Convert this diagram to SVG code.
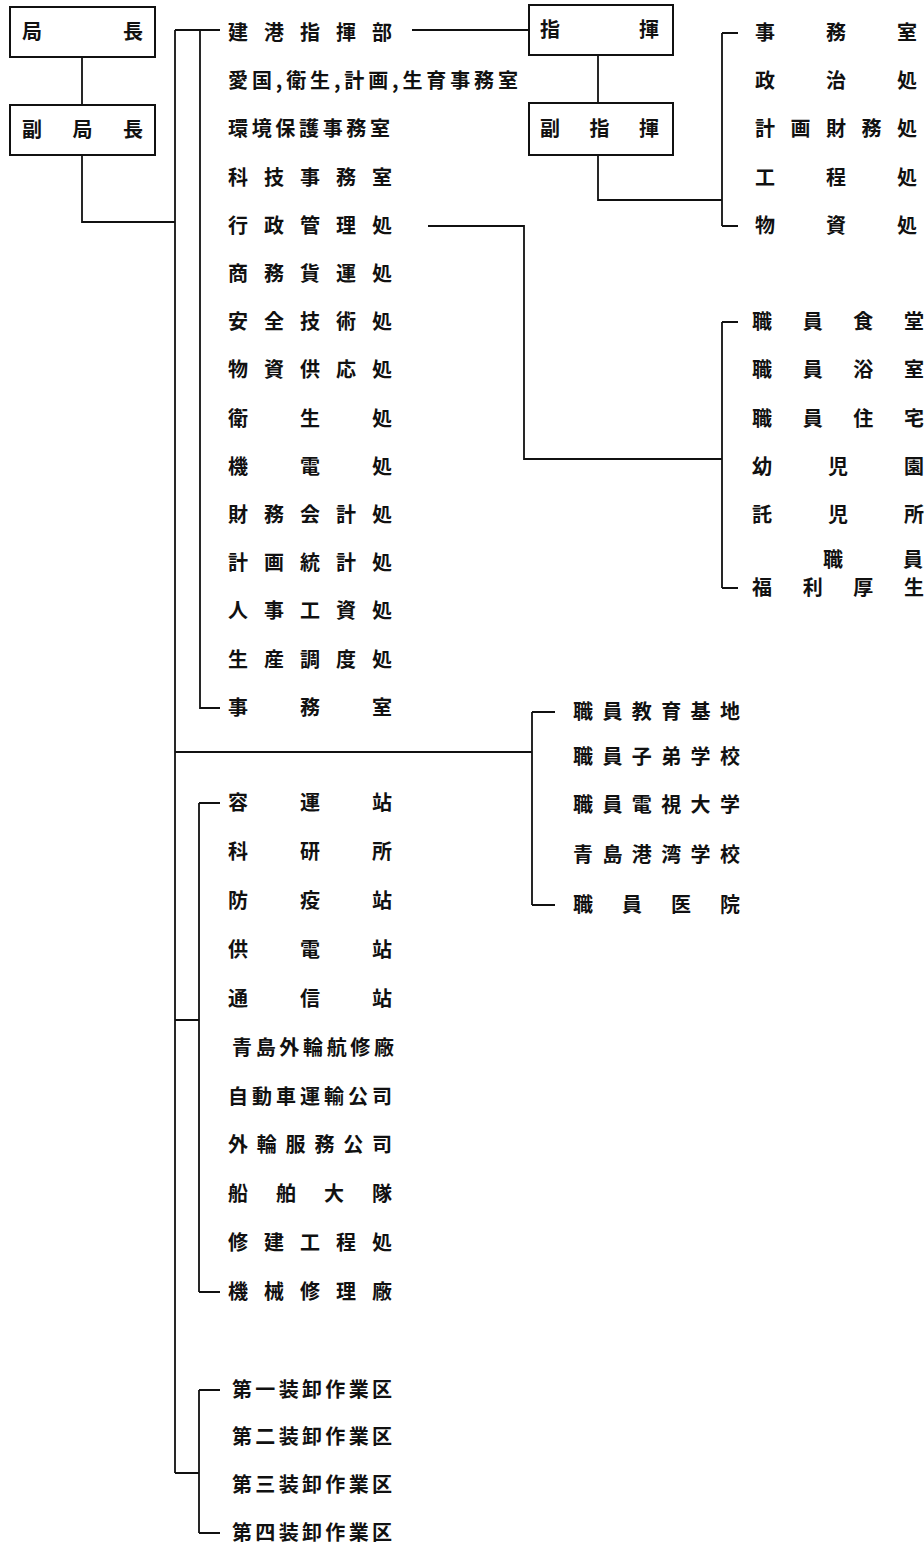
<svg xmlns="http://www.w3.org/2000/svg" width="924" height="1547" viewBox="0 0 924 1547">
<style>
.t{font-family:"Noto Sans CJK JP","Noto Sans CJK TC",sans-serif;font-size:20px;font-weight:bold;fill:#111}
.b{fill:#fff;stroke:#111;stroke-width:2}
.c{fill:none;stroke:#111;stroke-width:1.8}
</style>
<rect width="924" height="1547" fill="#fff"/>
<g id="connectors">
<path class="c" d="M82 57V105M82 155V222H175"/>
<path class="c" d="M175 30V1473M175 30H220M200 30V708H220"/>
<path class="c" d="M175 752H532M532 712V905M532 712H555M532 905H555"/>
<path class="c" d="M175 1020H199M199 803V1292M199 803H220M199 1292H220"/>
<path class="c" d="M175 1473H199M199 1390V1533M199 1390H220M199 1533H220"/>
<path class="c" d="M412 30H529"/>
<path class="c" d="M598 55V103M598 155V200H722M722 33V226M722 33H738M722 226H738"/>
<path class="c" d="M428 226H524V459H722M722 322V588M722 322H738M722 588H738"/>
</g>
<g id="n-juzhang"><rect class="b" x="10" y="7" width="145" height="50"/><text class="t" x="22" y="39" textLength="121" lengthAdjust="spacing">局長</text></g>
<g id="n-fujuzhang"><rect class="b" x="10" y="105" width="145" height="50"/><text class="t" x="22" y="137" textLength="121" lengthAdjust="spacing">副局長</text></g>
<g id="n-zhihui"><rect class="b" x="529" y="5" width="144" height="50"/><text class="t" x="540" y="37" textLength="119" lengthAdjust="spacing">指揮</text></g>
<g id="n-fuzhihui"><rect class="b" x="529" y="103" width="144" height="52"/><text class="t" x="540" y="136" textLength="119" lengthAdjust="spacing">副指揮</text></g>
<g id="n-group1">
<text class="t" x="228" y="40" textLength="164" lengthAdjust="spacing">建港指揮部</text>
<text class="t" x="228" y="88" textLength="290" lengthAdjust="spacing">愛国,衛生,計画,生育事務室</text>
<text class="t" x="228" y="136" textLength="162" lengthAdjust="spacing">環境保護事務室</text>
<text class="t" x="228" y="185" textLength="164" lengthAdjust="spacing">科技事務室</text>
<text class="t" x="228" y="233" textLength="164" lengthAdjust="spacing">行政管理処</text>
<text class="t" x="228" y="281" textLength="164" lengthAdjust="spacing">商務貨運処</text>
<text class="t" x="228" y="329" textLength="164" lengthAdjust="spacing">安全技術処</text>
<text class="t" x="228" y="377" textLength="164" lengthAdjust="spacing">物資供応処</text>
<text class="t" x="228" y="426" textLength="164" lengthAdjust="spacing">衛生処</text>
<text class="t" x="228" y="474" textLength="164" lengthAdjust="spacing">機電処</text>
<text class="t" x="228" y="522" textLength="164" lengthAdjust="spacing">財務会計処</text>
<text class="t" x="228" y="570" textLength="164" lengthAdjust="spacing">計画統計処</text>
<text class="t" x="228" y="618" textLength="164" lengthAdjust="spacing">人事工資処</text>
<text class="t" x="228" y="667" textLength="164" lengthAdjust="spacing">生産調度処</text>
<text class="t" x="228" y="715" textLength="164" lengthAdjust="spacing">事務室</text>
</g>
<g id="n-right1">
<text class="t" x="755" y="40" textLength="162" lengthAdjust="spacing">事務室</text>
<text class="t" x="755" y="88" textLength="162" lengthAdjust="spacing">政治処</text>
<text class="t" x="755" y="136" textLength="162" lengthAdjust="spacing">計画財務処</text>
<text class="t" x="755" y="185" textLength="162" lengthAdjust="spacing">工程処</text>
<text class="t" x="755" y="233" textLength="162" lengthAdjust="spacing">物資処</text>
</g>
<g id="n-right2">
<text class="t" x="752" y="329" textLength="172" lengthAdjust="spacing">職員食堂</text>
<text class="t" x="752" y="377" textLength="172" lengthAdjust="spacing">職員浴室</text>
<text class="t" x="752" y="426" textLength="172" lengthAdjust="spacing">職員住宅</text>
<text class="t" x="752" y="474" textLength="172" lengthAdjust="spacing">幼児園</text>
<text class="t" x="752" y="522" textLength="172" lengthAdjust="spacing">託児所</text>
<text class="t" x="823" y="567" textLength="100" lengthAdjust="spacing">職員</text>
<text class="t" x="752" y="595" textLength="172" lengthAdjust="spacing">福利厚生</text>
</g>
<g id="n-right3">
<text class="t" x="573" y="719" textLength="167" lengthAdjust="spacing">職員教育基地</text>
<text class="t" x="573" y="764" textLength="167" lengthAdjust="spacing">職員子弟学校</text>
<text class="t" x="573" y="812" textLength="167" lengthAdjust="spacing">職員電視大学</text>
<text class="t" x="573" y="862" textLength="167" lengthAdjust="spacing">青島港湾学校</text>
<text class="t" x="573" y="912" textLength="167" lengthAdjust="spacing">職員医院</text>
</g>
<g id="n-group2">
<text class="t" x="228" y="810" textLength="164" lengthAdjust="spacing">容運站</text>
<text class="t" x="228" y="859" textLength="164" lengthAdjust="spacing">科研所</text>
<text class="t" x="228" y="908" textLength="164" lengthAdjust="spacing">防疫站</text>
<text class="t" x="228" y="957" textLength="164" lengthAdjust="spacing">供電站</text>
<text class="t" x="228" y="1006" textLength="164" lengthAdjust="spacing">通信站</text>
<text class="t" x="232" y="1055" textLength="162" lengthAdjust="spacing">青島外輪航修廠</text>
<text class="t" x="228" y="1104" textLength="164" lengthAdjust="spacing">自動車運輸公司</text>
<text class="t" x="228" y="1152" textLength="164" lengthAdjust="spacing">外輪服務公司</text>
<text class="t" x="228" y="1201" textLength="164" lengthAdjust="spacing">船舶大隊</text>
<text class="t" x="228" y="1250" textLength="164" lengthAdjust="spacing">修建工程処</text>
<text class="t" x="228" y="1299" textLength="164" lengthAdjust="spacing">機械修理廠</text>
</g>
<g id="n-group3">
<text class="t" x="232" y="1397" textLength="160" lengthAdjust="spacing">第一装卸作業区</text>
<text class="t" x="232" y="1444" textLength="160" lengthAdjust="spacing">第二装卸作業区</text>
<text class="t" x="232" y="1492" textLength="160" lengthAdjust="spacing">第三装卸作業区</text>
<text class="t" x="232" y="1540" textLength="160" lengthAdjust="spacing">第四装卸作業区</text>
</g>
</svg>
